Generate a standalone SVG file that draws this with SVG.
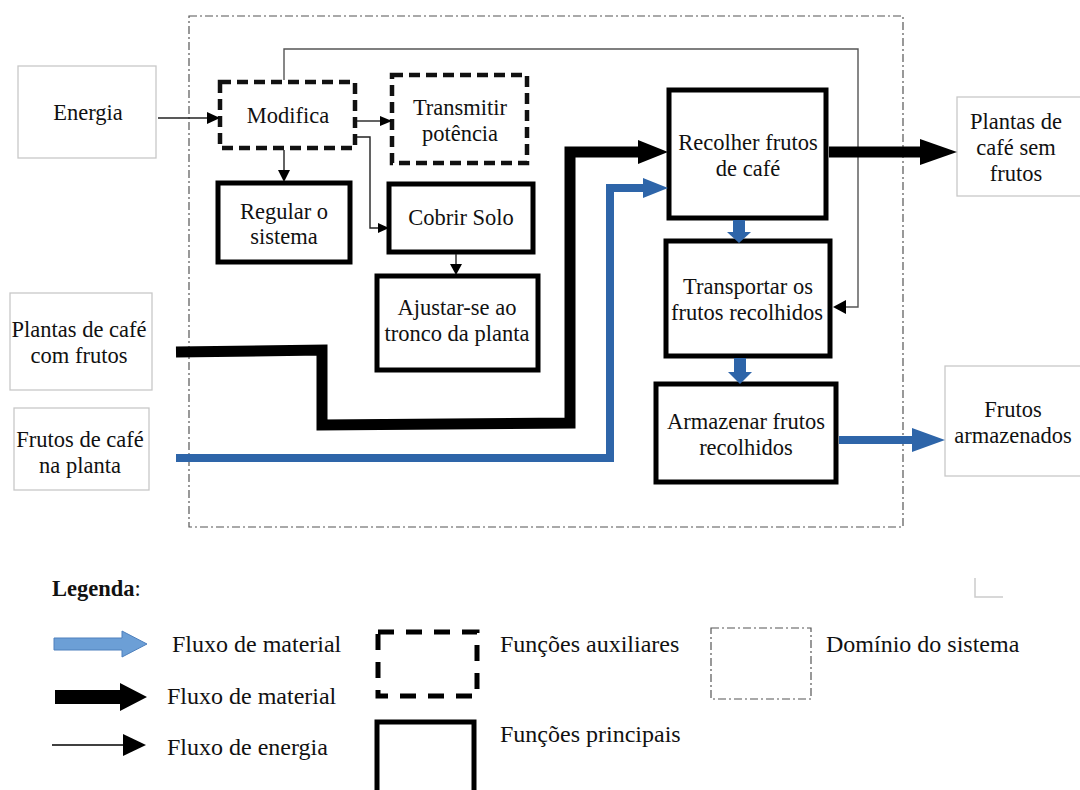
<svg xmlns="http://www.w3.org/2000/svg" width="1080" height="790" viewBox="0 0 1080 790">
<style>
text{font-family:"Liberation Serif","Times New Roman",serif;font-size:22.5px;fill:#111;text-anchor:middle}
.lg{font-size:24px;text-anchor:start}
.ext{fill:#fff;stroke:#c8c8c8;stroke-width:1.3}
.aux{fill:#fff;stroke:#111;stroke-width:4.5;stroke-dasharray:11 6}
.main{fill:#fff;stroke:#000;stroke-width:5}
.thin{fill:none;stroke:#222;stroke-width:1.4}
.loop{fill:none;stroke:#555;stroke-width:1.4}
.blk{fill:none;stroke:#000;stroke-width:11}
.blu{fill:none;stroke:#2e65a9;stroke-width:8}
.dom{fill:none;stroke:#555;stroke-width:1.2;stroke-dasharray:8 3 2 3}
</style>
<rect width="1080" height="790" fill="#fff"/>
<g id="domain"><rect x="189" y="16" width="714" height="511" class="dom"/></g>

<g id="energia"><rect x="18" y="66" width="138" height="92" class="ext"/><text x="88" y="120">Energia</text></g>
<g id="plantas-com"><rect x="10" y="293" width="142" height="97" class="ext"/><text x="79" y="337">Plantas de café</text><text x="79" y="363">com frutos</text></g>
<g id="frutos-planta"><rect x="14" y="408" width="135" height="82" class="ext"/><text x="80" y="447">Frutos de café</text><text x="80" y="473">na planta</text></g>
<g id="plantas-sem"><rect x="957" y="97" width="130" height="99" class="ext"/><text x="1016" y="129">Plantas de</text><text x="1016" y="155">café sem</text><text x="1016" y="181">frutos</text></g>
<g id="frutos-arm"><rect x="945" y="366" width="140" height="110" class="ext"/><text x="1013" y="417">Frutos</text><text x="1013" y="443">armazenados</text></g>

<g id="modifica"><rect x="220" y="82" width="135" height="66" class="aux"/><text x="288" y="123">Modifica</text></g>
<g id="transmitir"><rect x="392" y="75" width="135" height="88" class="aux"/><text x="460" y="115">Transmitir</text><text x="460" y="141">potência</text></g>
<g id="regular"><rect x="218" y="183" width="132" height="79" class="main"/><text x="284" y="219">Regular o</text><text x="284" y="244">sistema</text></g>
<g id="cobrir"><rect x="389" y="184" width="144" height="68" class="main"/><text x="461" y="225">Cobrir Solo</text></g>
<g id="ajustar"><rect x="377" y="276" width="161" height="94" class="main"/><text x="457" y="315">Ajustar-se ao</text><text x="457" y="341">tronco da planta</text></g>
<g id="recolher"><rect x="669" y="90" width="157" height="128" class="main"/><text x="748" y="150">Recolher frutos</text><text x="748" y="176">de café</text></g>
<g id="transportar"><rect x="666" y="241" width="164" height="115" class="main"/><text x="748" y="294">Transportar os</text><text x="747" y="320">frutos recolhidos</text></g>
<g id="armazenar"><rect x="656" y="384" width="180" height="98" class="main"/><text x="746" y="429">Armazenar frutos</text><text x="746" y="455">recolhidos</text></g>

<g id="connectors">
<line x1="158" y1="118" x2="209" y2="118" class="thin"/><polygon points="207,112 220,118 207,124" fill="#000"/>
<line x1="357" y1="121" x2="381" y2="121" class="thin"/><polygon points="380,116 392,121 380,126" fill="#000"/>
<polyline points="357,137 370,137 370,228 379,228" class="thin"/><polygon points="378,223 389,228 378,233" fill="#000"/>
<line x1="284" y1="150" x2="284" y2="171" class="thin"/><polygon points="278,170 290,170 284,182" fill="#000"/>
<line x1="456" y1="254" x2="456" y2="265" class="thin"/><polygon points="450,264 462,264 456,275" fill="#000"/>
<polyline points="284,80 284,49 858,49 858,307 845,307" class="loop"/><polygon points="846,300 833,307 846,314" fill="#000"/>
<polyline points="176,352 322,350 322,425 570,423 570,152 640,152" class="blk" stroke-linejoin="miter"/><polygon points="638,140 668,152 638,164" fill="#000"/>
<polyline points="176,458 610,458 610,188 645,188" class="blu" stroke-linejoin="miter"/><polygon points="643,178 668,188 643,198" fill="#2e65a9"/>
<line x1="829" y1="152" x2="922" y2="152" class="blk"/><polygon points="920,139 957,152 920,165" fill="#000"/>
<line x1="839" y1="440" x2="915" y2="440" class="blu"/><polygon points="912,428 945,440 912,452" fill="#2e65a9"/>
<rect x="733" y="220" width="12" height="13" fill="#2e65a9"/><polygon points="727,232 751,232 739,243" fill="#2e65a9"/>
<rect x="734" y="358" width="12" height="15" fill="#2e65a9"/><polygon points="728,372 752,372 740,384" fill="#2e65a9"/>
</g>

<g id="legend">
<text x="52" y="596" class="lg" style="font-weight:bold;font-size:22.5px">Legenda<tspan font-weight="normal">:</tspan></text>
<polygon points="54,638 122,638 122,631 147,644 122,657 122,650 54,650" fill="#6c9fd6" stroke="#4e80bd" stroke-width="1"/>
<text x="172" y="652" class="lg">Fluxo de material</text>
<polygon points="55,690 120,690 120,683 147,697 120,711 120,704 55,704" fill="#000"/>
<text x="167" y="704" class="lg">Fluxo de material</text>
<line x1="52" y1="745" x2="125" y2="745" stroke="#000" stroke-width="1.5"/><polygon points="123,734 146,745 123,756" fill="#000"/>
<text x="167" y="755" class="lg">Fluxo de energia</text>
<rect x="378" y="632" width="99" height="64" fill="none" stroke="#000" stroke-width="5" stroke-dasharray="16 12"/>
<text x="500" y="652" class="lg">Funções auxiliares</text>
<rect x="377" y="722" width="97" height="72" fill="none" stroke="#000" stroke-width="5"/>
<text x="500" y="742" class="lg">Funções principais</text>
<rect x="711" y="628" width="100" height="71" class="dom"/>
<text x="826" y="652" class="lg">Domínio do sistema</text>
<polyline points="975,578 975,597 1003,597" fill="none" stroke="#ccc" stroke-width="1.5"/>
</g>
</svg>
